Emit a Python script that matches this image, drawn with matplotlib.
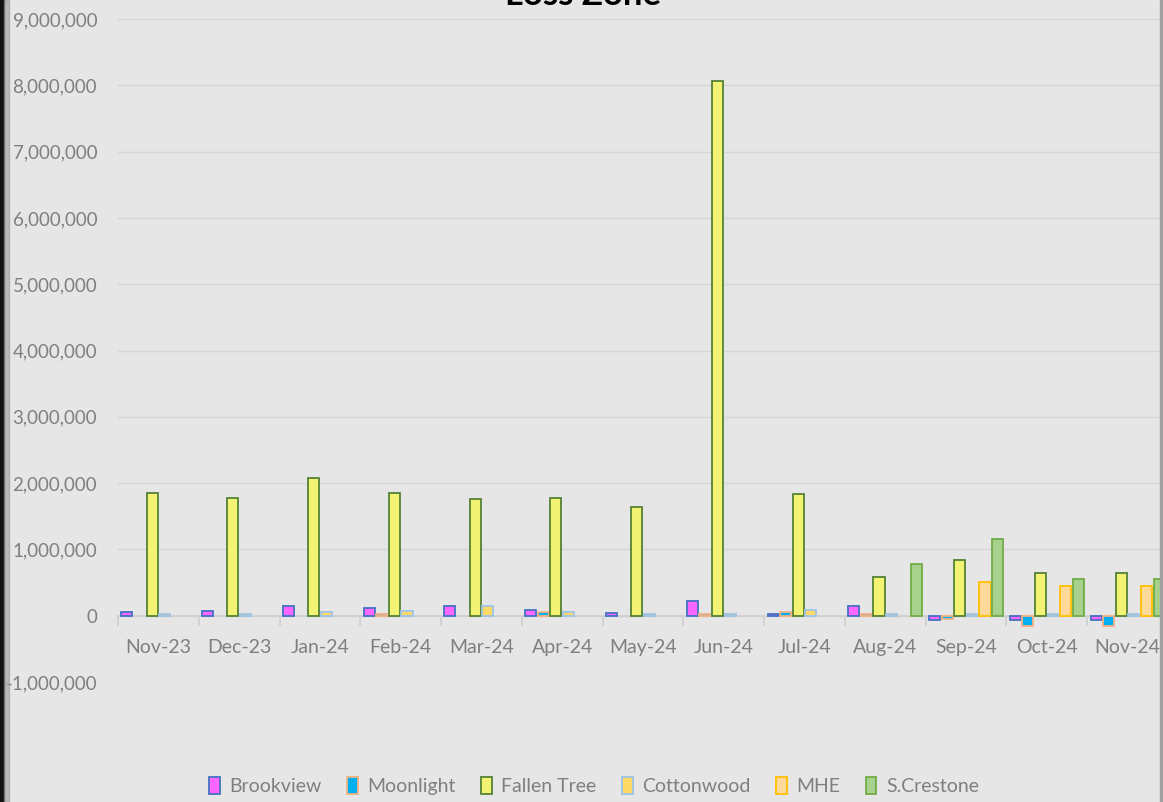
import numpy as np
import matplotlib
matplotlib.use("Agg")
import matplotlib.pyplot as plt
from matplotlib.ticker import FuncFormatter, FixedLocator

nan = np.nan
months = ["Nov-23", "Dec-23", "Jan-24", "Feb-24", "Mar-24", "Apr-24", "May-24",
          "Jun-24", "Jul-24", "Aug-24", "Sep-24", "Oct-24", "Nov-24"]

brookview = [50000, 75000, 150000, 110000, 150000, 90000, 35000, 225000, 20000, 150000, -70000, -70000, -70000]
moonlight = [nan, nan, nan, 30000, nan, 50000, nan, 30000, 50000, 20000, -50000, -150000, -150000]
fallen_tree = [1850000, 1780000, 2080000, 1850000, 1760000, 1770000, 1640000, 8070000, 1840000, 590000, 840000, 650000, 650000]
cottonwood = [20000, 20000, 50000, 70000, 150000, 50000, 30000, 30000, 80000, 20000, 20000, 20000, 20000]
mhe = [nan, nan, nan, nan, nan, nan, nan, nan, nan, nan, 510000, 450000, 450000]
s_crestone = [nan, nan, nan, nan, nan, nan, nan, nan, nan, 780000, 1150000, 550000, 550000]

series = [
    ("Brookview", brookview, "#FF66FF", "#4472C4"),
    ("Moonlight", moonlight, "#00B0F0", "#F4B183"),
    ("Fallen Tree", fallen_tree, "#F2F273", "#548235"),
    ("Cottonwood", cottonwood, "#FFD966", "#9DC3E6"),
    ("MHE", mhe, "#FFD99A", "#FFC000"),
    ("S.Crestone", s_crestone, "#A9D18E", "#70AD47"),
]

bg = "#E6E6E6"
txt = "#7F7F7F"
plt.rcParams["font.family"] = ["Lato", "DejaVu Sans"]

fig = plt.figure(figsize=(11.63, 8.02), dpi=100, facecolor=bg)
ax = fig.add_axes([118 / 1163, 1 - 682 / 802, 1050 / 1163, 663 / 802])
ax.set_facecolor(bg)

x = np.arange(len(months))
pitch = 0.156
width = 0.137
for i, (name, vals, fc, ec) in enumerate(series):
    ax.bar(x + (i - 2.5) * pitch, vals, width, color=fc, edgecolor=ec,
           linewidth=1.3, label=name, zorder=3)

ax.set_ylim(-1000000, 9000000)
ax.set_xlim(-0.5, len(months) - 0.5)
ax.set_yticks(np.arange(-1000000, 9000001, 1000000))
ax.yaxis.set_major_formatter(FuncFormatter(lambda v, p: "{:,.0f}".format(v)))
ax.grid(axis="y", color="#D6D6D6", linewidth=1.0, zorder=0)

for s in ["top", "right", "left"]:
    ax.spines[s].set_visible(False)
ax.spines["bottom"].set_position(("data", 0))
ax.spines["bottom"].set_color("#CFCFCF")
ax.spines["bottom"].set_linewidth(1.2)
ax.spines["bottom"].set_zorder(2)

ax.set_xticks(x)
ax.set_xticklabels(months)
ax.xaxis.set_minor_locator(FixedLocator(np.arange(-0.5, len(months), 1.0)))
ax.tick_params(axis="x", which="major", length=0, pad=17, labelsize=14, labelcolor=txt)
ax.tick_params(axis="x", which="minor", length=7, color="#CFCFCF", width=1.2)
ax.tick_params(axis="y", length=0, pad=15, labelsize=13.5, labelcolor=txt)

leg = fig.legend(loc="center", bbox_to_anchor=(594 / 1163, 1 - 786 / 802), ncol=6,
                 frameon=False, fontsize=14, handlelength=0.55, handleheight=1.0,
                 handletextpad=0.5, columnspacing=1.3, labelcolor=txt)

fig.text(583 / 1163, 1 - 5 / 802, "Loss Zone", ha="center", va="baseline",
         fontsize=25, fontweight="bold", color="black")

# dark border on the left, thin one on the right
fig.patches.append(plt.Rectangle((0, 0), 4 / 1163, 1, transform=fig.transFigure,
                                 color="#111111", zorder=10))
fig.patches.append(plt.Rectangle((4 / 1163, 0), 5 / 1163, 1, transform=fig.transFigure,
                                 color="#9A9A9A", zorder=10, alpha=0.6))
fig.patches.append(plt.Rectangle((1160 / 1163, 0), 3 / 1163, 1, transform=fig.transFigure,
                                 color="#A0A0A0", zorder=10))

fig.savefig("out.png", dpi=100, facecolor=bg)
